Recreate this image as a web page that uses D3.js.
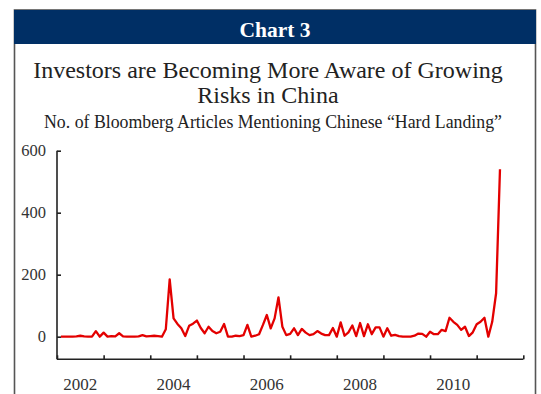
<!DOCTYPE html>
<html>
<head>
<meta charset="utf-8">
<script src="https://cdn.jsdelivr.net/npm/d3@7"></script>
<style>
  body { margin: 0; background: #fff; }
  text { font-family: "Liberation Serif", "DejaVu Serif", serif; }
</style>
</head>
<body>
<svg width="541" height="394"></svg>
<script>
// monthly counts, Jan 2002 .. Jun 2011
var startYear = 2002;
var articles = [
  0, 0, 0, 0, 1, 3, 1, 0, 0, 18, 0, 13,          // 2002
  0, 2, 1, 11, 1, 0, 0, 0, 1, 5, 1, 2,           // 2003
  3, 2, 0, 24, 185, 59, 41, 27, 2, 35, 42, 52,   // 2004
  28, 11, 32, 18, 11, 16, 41, 0, 0, 3, 2, 5,     // 2005
  38, 0, 3, 8, 38, 70, 27, 59, 127, 32, 5, 9,    // 2006
  27, 5, 25, 13, 5, 8, 18, 10, 5, 5, 28, 0,      // 2007
  46, 3, 14, 36, 2, 44, 2, 40, 8, 30, 30, 0,     // 2008
  27, 3, 6, 2, 0, 0, 0, 3, 10, 9, 0, 16,         // 2009
  8, 8, 22, 18, 61, 48, 38, 22, 32, 2, 14, 40,   // 2010
  48, 61, 0, 48, 140, 540                        // 2011
];
var yTicks = [0, 200, 400, 600];
var yearTicks = d3.range(2002, 2013);
var yearLabels = [2002, 2004, 2006, 2008, 2010];

var headerTitle = "Chart 3";
var titleLines = ["Investors are Becoming More Aware of Growing", "Risks in China"];
var subtitle = "No. of Bloomberg Articles Mentioning Chinese \u201cHard Landing\u201d";

var svg = d3.select("svg");

// frame + header band
svg.append("rect")
    .attr("x", 14.5).attr("y", 10).attr("width", 521).attr("height", 400)
    .attr("fill", "#fff").attr("stroke", "#555").attr("stroke-width", 1.6);
svg.append("rect")
    .attr("x", 14).attr("y", 10).attr("width", 522).attr("height", 34)
    .attr("fill", "#002f65");
svg.append("text")
    .attr("x", 275).attr("y", 37)
    .attr("text-anchor", "middle")
    .attr("fill", "#fff")
    .style("font-size", "21.5px").style("font-weight", "bold")
    .text(headerTitle);

svg.selectAll("text.title")
  .data(titleLines)
  .enter().append("text")
    .attr("class", "title")
    .attr("x", 268).attr("y", function(d, i) { return 78 + i * 25; })
    .attr("text-anchor", "middle")
    .attr("fill", "#222")
    .style("font-size", "24px")
    .text(function(d) { return d; });

svg.append("text")
    .attr("x", 273).attr("y", 128)
    .attr("text-anchor", "middle")
    .attr("fill", "#222")
    .style("font-size", "17.8px")
    .text(subtitle);

var x = d3.scaleLinear()
    .domain([2002, 2012])
    .range([57, 523.3]);

var y = d3.scaleLinear()
    .domain([-73, 600])
    .range([359.3, 150.7]);

// y axis
var yAxis = svg.append("g")
    .attr("transform", "translate(" + x(2002) + ",0)")
    .call(d3.axisRight(y).tickValues(yTicks).tickSize(4).tickFormat(""));
yAxis.select(".domain").attr("d", "M0," + y(600) + "V" + y(-73));

svg.selectAll("text.ylab")
  .data(yTicks)
  .enter().append("text")
    .attr("class", "ylab")
    .attr("x", 46).attr("y", function(d) { return y(d) + 5.5; })
    .attr("text-anchor", "end")
    .attr("fill", "#333")
    .style("font-size", "16.5px")
    .text(function(d) { return d; });

// x axis, ticks at year starts pointing up
var xAxis = svg.append("g")
    .attr("transform", "translate(0," + y(-73) + ")")
    .call(d3.axisTop(x).tickValues(yearTicks).tickSize(4).tickFormat(""));
xAxis.select(".domain").attr("d", "M" + x(2002) + ",0H" + x(2012));

svg.selectAll("g.tick line, .domain")
    .attr("stroke", "#222")
    .attr("stroke-width", 1.6);

svg.selectAll("text.xlab")
  .data(yearLabels)
  .enter().append("text")
    .attr("class", "xlab")
    .attr("x", function(d) { return x(d + 0.5); })
    .attr("y", 390)
    .attr("text-anchor", "middle")
    .attr("fill", "#333")
    .style("font-size", "17px")
    .text(function(d) { return d; });

// the line
var line = d3.line()
    .x(function(d, i) { return x(startYear + (i + 1) / 12); })
    .y(function(d) { return y(d); });

svg.append("path")
    .datum(articles)
    .attr("fill", "none")
    .attr("stroke", "#e30000")
    .attr("stroke-width", 2.3)
    .attr("stroke-linejoin", "round")
    .attr("d", line);
</script>
</body>
</html>
